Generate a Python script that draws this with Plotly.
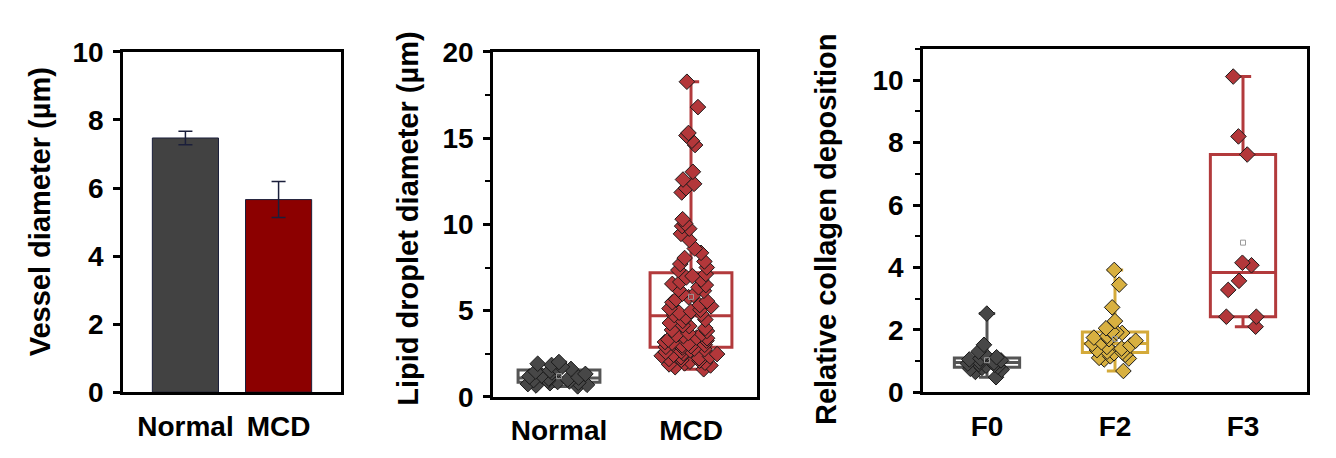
import numpy as np
import plotly.graph_objects as go

# ---------------- data ----------------
# Panel 1: vessel diameter (bar + error)
vessel_groups = ["Normal", "MCD"]
vessel_mean = [7.47, 5.66]
vessel_err = [0.20, 0.53]

# Panel 2: lipid droplet diameter
lipid_groups = ["Normal", "MCD"]
lipid_normal = [2.02, 1.92, 1.85, 1.74, 1.62, 1.58, 1.52, 1.47, 1.41, 1.33, 1.24, 1.18,
                1.12, 1.06, 1.01, 0.97, 0.93, 0.9, 0.86, 0.82, 0.79, 0.74, 0.7, 0.66, 0.61]
lipid_mcd = [18.27, 16.8, 15.3, 15.15, 14.85, 14.6, 13.05, 12.6, 12.35, 12.1, 11.85,
             10.3, 10.05, 9.9, 9.75, 9.45, 9.1, 8.6, 8.35, 8.05, 7.85, 7.7, 7.5, 7.35,
             7.12, 7.0, 6.92, 6.8, 6.66, 6.55, 6.48, 6.35, 6.22, 6.15, 5.98, 5.9, 5.78,
             5.66, 5.55, 5.48, 5.32, 5.25, 5.12, 5.05, 4.96, 4.88, 4.8, 4.74,
             4.62, 4.48, 4.4, 4.28, 4.15, 4.1, 3.98, 3.88, 3.82, 3.7, 3.66, 3.58, 3.52,
             3.44, 3.4, 3.32, 3.26, 3.18, 3.14, 3.08, 3.02, 2.98, 2.94, 2.9,
             2.86, 2.8, 2.76, 2.7, 2.64, 2.6, 2.52, 2.48, 2.44, 2.38, 2.34, 2.3, 2.24,
             2.2, 2.14, 2.1, 2.04, 1.98, 1.94, 1.88, 1.82, 1.72, 1.6]
lipid_q1 = [0.85, 2.88]
lipid_med = [1.1, 4.7]
lipid_q3 = [1.55, 7.2]
lipid_lo = [0.6, 1.6]
lipid_hi = [2.0, 18.27]

# Panel 3: relative collagen deposition
coll_groups = ["F0", "F2", "F3"]
coll_f0 = [2.52, 1.52, 1.3, 1.22, 1.12, 1.08, 1.05, 1.02, 0.98, 0.95, 0.92, 0.9,
           0.88, 0.85, 0.82, 0.78, 0.75, 0.72, 0.65, 0.48]
coll_f2 = [3.92, 3.45, 2.72, 2.28, 2.05, 1.95, 1.92, 1.9, 1.85, 1.8, 1.75, 1.7, 1.65,
           1.6, 1.55, 1.5, 1.45, 1.4, 1.35, 1.3, 1.28, 1.25, 1.2, 1.15, 1.1, 1.08, 1.05, 0.68]
coll_f3 = [10.12, 8.2, 7.62, 4.15, 4.07, 3.57, 3.28, 2.42, 2.42, 2.1]
coll_q1 = [0.8, 1.27, 2.42]
coll_med = [0.95, 1.56, 3.84]
coll_q3 = [1.1, 1.93, 7.62]
coll_lo = [0.48, 0.68, 2.1]
coll_hi = [2.52, 3.92, 10.12]

# ---------------- styles ----------------
GREY_BAR = "#424242"
RED_BAR = "#8c0000"
GREY = "#555555"
GREY_PT = "#474747"
RED = "#b23a3c"
RED_PT = "#b3373a"
GOLD = "#d4aa3a"
GOLD_PT = "#d8b040"
FONT = "Liberation Sans"
TICKFONT = dict(family=FONT, size=28, color="black", weight="bold")
TITLEFONT = dict(family=FONT, size=29, color="black", weight="bold")

fig = go.Figure()

# Panel 1 bars
fig.add_trace(go.Bar(
    x=vessel_groups, y=vessel_mean,
    error_y=dict(type="data", array=vessel_err, color="#1b1f3b", thickness=1.5, width=7),
    marker=dict(color=[GREY_BAR, RED_BAR], line=dict(color="#1b1f3b", width=1)),
    width=0.71, xaxis="x", yaxis="y", showlegend=False))


def add_group(name, values, q1, med, q3, lo, hi, line_col, pt_col, xa, ya, width, ww, jitter):
    # box from statistics
    fig.add_trace(go.Box(
        x=[name], q1=[q1], median=[med], q3=[q3], lowerfence=[lo], upperfence=[hi],
        line=dict(color=line_col, width=3), fillcolor="rgba(0,0,0,0)",
        whiskerwidth=ww, width=width, boxpoints=False,
        xaxis=xa, yaxis=ya, showlegend=False, hoverinfo="skip"))
    # sample points
    fig.add_trace(go.Box(
        x=[name] * len(values), y=values, boxpoints="all", jitter=jitter, pointpos=0,
        width=width, line=dict(width=0, color="rgba(0,0,0,0)"),
        fillcolor="rgba(0,0,0,0)",
        marker=dict(symbol="diamond", size=12, color=pt_col,
                    line=dict(color="#1a1a1a", width=1)),
        xaxis=xa, yaxis=ya, showlegend=False))
    # mean marker
    fig.add_trace(go.Scatter(
        x=[name], y=[float(np.mean(values))], mode="markers",
        marker=dict(symbol="square-open", size=5, color="#9a9a9a", line=dict(width=1)),
        xaxis=xa, yaxis=ya, showlegend=False, hoverinfo="skip"))


add_group("Normal", lipid_normal, lipid_q1[0], lipid_med[0], lipid_q3[0], lipid_lo[0],
          lipid_hi[0], GREY, GREY_PT, "x2", "y2", 0.62, 0.2, 0.9)
add_group("MCD", lipid_mcd, lipid_q1[1], lipid_med[1], lipid_q3[1], lipid_lo[1],
          lipid_hi[1], RED, RED_PT, "x2", "y2", 0.62, 0.2, 0.75)

coll_data = [coll_f0, coll_f2, coll_f3]
coll_line = [GREY, GOLD, RED]
coll_pt = [GREY_PT, GOLD_PT, RED_PT]
for i, g in enumerate(coll_groups):
    add_group(g, coll_data[i], coll_q1[i], coll_med[i], coll_q3[i], coll_lo[i],
              coll_hi[i], coll_line[i], coll_pt[i], "x3", "y3", 0.51, 0.25, 0.8)

W, H = 1336, 458


def px_x(a, b):
    return [a / W, b / W]


def px_y(top, bottom):
    return [1 - bottom / H, 1 - top / H]


common_y = dict(showline=True, linecolor="black", linewidth=2.5, mirror=True,
                ticks="outside", ticklen=7, tickwidth=2.5, tickcolor="black",
                ticklabelstandoff=4,
                showgrid=False, zeroline=False, tickfont=TICKFONT)
common_x = dict(showline=True, linecolor="black", linewidth=2.5, mirror=True,
                ticks="outside", ticklen=7, tickcolor="rgba(0,0,0,0)",
                showgrid=False, zeroline=False, tickfont=TICKFONT, type="category")

fig.update_layout(
    width=W, height=H, margin=dict(l=0, r=0, t=0, b=0),
    paper_bgcolor="white", plot_bgcolor="white", boxmode="overlay",
    xaxis=dict(domain=px_x(115, 333), range=[-0.67, 1.67], anchor="y",
               categoryorder="array", categoryarray=vessel_groups, **common_x),
    yaxis=dict(domain=px_y(31, 396), range=[0, 10], dtick=2, anchor="x", **common_y),
    xaxis2=dict(domain=px_x(485, 749), range=[-0.5, 1.5], anchor="y2",
                categoryorder="array", categoryarray=lipid_groups, **common_x),
    yaxis2=dict(domain=px_y(31, 401), range=[0, 20], dtick=5, anchor="x2",
                minor=dict(ticks="outside", dtick=2.5, ticklen=5, tickwidth=2, tickcolor="black"),
                **common_y),
    xaxis3=dict(domain=px_x(915, 1299), range=[-0.5, 2.5], anchor="y3",
                categoryorder="array", categoryarray=coll_groups, **common_x),
    yaxis3=dict(domain=px_y(28, 396), range=[0, 11], dtick=2, anchor="x3",
                minor=dict(ticks="outside", dtick=1, ticklen=5, tickwidth=2, tickcolor="black"),
                **common_y),
)

titles = [("Vessel diameter (µm)", 32, 203),
          ("Lipid droplet diameter (µm)", 400, 210),
          ("Relative collagen deposition", 818, 221)]
for text, cx, cy in titles:
    fig.add_annotation(text=text, x=cx / W, y=1 - cy / H, xref="paper", yref="paper",
                       textangle=-90, showarrow=False, font=TITLEFONT,
                       xanchor="center", yanchor="middle")

fig.write_html("out.html")
